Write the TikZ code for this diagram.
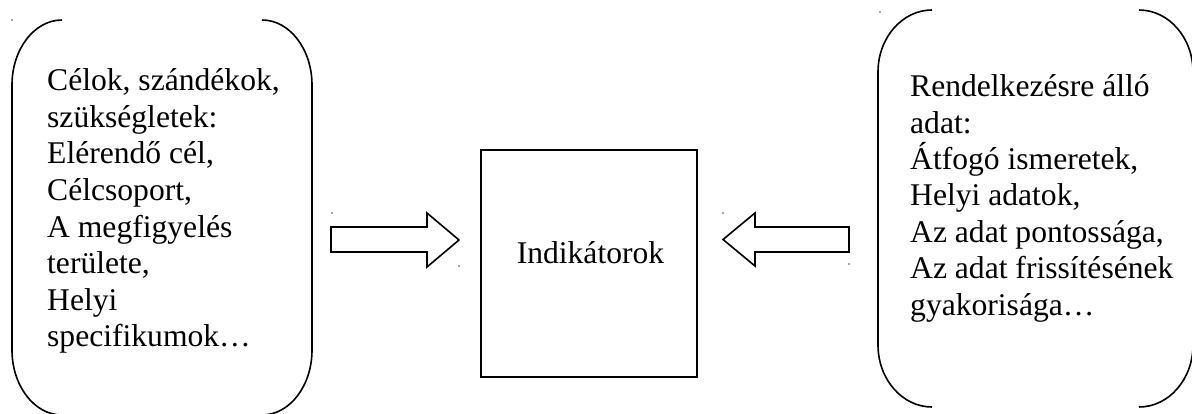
\documentclass[tikz,border=0pt]{standalone}
\usepackage{fontspec}
\setmainfont{Liberation Serif}
\begin{document}
\begin{tikzpicture}[x=1pt,y=-1pt,
  line/.style={line width=1.6pt, black},
  txt/.style={inner sep=0pt, anchor=base west},
  dotmark/.style={fill=black!70, draw=none},
  blockarrow/.style={line width=1.6pt, draw=black, fill=white, line join=miter}]
\useasboundingbox (0,0) rectangle (1192,414);
\clip (0,0) rectangle (1192,414);
% left bracket pair
\draw[line] (62,20) .. controls (34.4,20) and (12,49.1) .. (12,85) -- (12,350)
  .. controls (12,385.9) and (34.4,415) .. (62,415);
\draw[line] (262,20) .. controls (289.6,20) and (312,49.1) .. (312,85) -- (312,350)
  .. controls (312,385.9) and (289.6,415) .. (262,415);
% right bracket pair
\draw[line] (932,10) .. controls (902.2,10) and (878,37.8) .. (878,72) -- (878,345)
  .. controls (878,379.2) and (902.2,407) .. (932,407);
\draw[line] (1139,10) .. controls (1168.8,10) and (1193,37.8) .. (1193,72) -- (1193,345)
  .. controls (1193,379.2) and (1168.8,407) .. (1139,407);
% texts
\node[txt] (lefttext) at (47,90.7) {\parbox[t]{260pt}{\raggedright\fontsize{31.6}{36.6}\selectfont
Célok, szándékok,\\ szükségletek:\\ Elérendő cél,\\ Célcsoport,\\ A megfigyelés\\ területe,\\ Helyi\\ specifikumok…}};
\node[txt] (righttext) at (910,96.7) {\parbox[t]{280pt}{\raggedright\fontsize{31.6}{36.4}\selectfont
Rendelkezésre álló\\ adat:\\ Átfogó ismeretek,\\ Helyi adatok,\\ Az adat pontossága,\\ Az adat frissítésének\\ gyakorisága…}};
% central box
\node[line, draw, minimum width=216pt, minimum height=227pt, inner sep=0pt] (ind) at (589,263.5) {};
\node[inner sep=0pt, anchor=base, font=\fontsize{31.6}{36.6}\selectfont] (indtxt) at (590.5,263.3) {Indikátorok};
% block arrows
\draw[blockarrow] (331,227) -- (427,227) -- (427,213) -- (459,240) -- (427,267) -- (427,252) -- (331,252) -- cycle;
\draw[blockarrow] (849,227) -- (755,227) -- (755,213) -- (723,239.5) -- (755,266) -- (755,252) -- (849,252) -- cycle;
% tiny corner dots
\foreach \p in {(12,20),(880,12),(332,213),(459,266),(723,213),(849,264)}
  \fill[dotmark] \p circle (0.9);
\end{tikzpicture}
\end{document}
